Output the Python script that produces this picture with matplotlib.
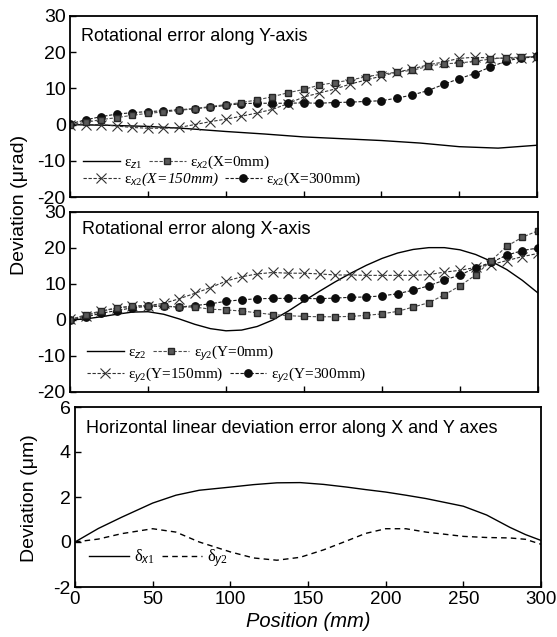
import matplotlib
matplotlib.use('Agg')
import matplotlib.pyplot as plt
from matplotlib.lines import Line2D

plt.rcParams['font.family'] = ['Liberation Sans', 'DejaVu Sans']
plt.rcParams['axes.unicode_minus'] = False
plt.rcParams['mathtext.fontset'] = 'custom'
plt.rcParams['mathtext.rm'] = 'Liberation Serif'
plt.rcParams['mathtext.it'] = 'Liberation Sans:italic'
plt.rcParams['mathtext.sf'] = 'Liberation Serif:italic'

# measured positions (mm)
pos = [0, 10, 20, 30, 40, 50, 60, 70, 80, 90, 100, 110, 120, 130, 140, 150,
       160, 170, 180, 190, 200, 210, 220, 230, 240, 250, 260, 270, 280, 290, 300]

# --- rotational error along Y-axis (urad)
ez1_pos = [0, 25, 50, 75, 100, 125, 150, 175, 200, 225, 250, 275, 300]
ez1 = [0, -0.2, -0.5, -1.1, -1.9, -2.6, -3.4, -3.9, -4.4, -5.1, -6.1, -6.5, -5.7]
ex2_x0 = [0, 0.6, 1.4, 1.9, 2.6, 3.1, 3.5, 3.9, 4.4, 5.0, 5.5, 6.1, 6.8, 7.7, 8.8, 9.7,
          10.9, 11.6, 12.3, 13.2, 13.9, 14.5, 15.0, 16.1, 16.8, 17.0, 17.5, 18.1, 18.5, 18.6, 18.8]
ex2_x150 = [0, 0, 0, -0.4, -0.8, -1.0, -1.0, -0.8, 0, 0.8, 1.5, 2.3, 3.2, 4.2, 5.8, 7.6,
            8.7, 9.8, 11.2, 12.3, 13.4, 14.5, 15.4, 16.5, 17.3, 18.3, 18.6, 18.4, 18.3, 18.4, 18.7]
ex2_x300 = [0.2, 1.3, 2.2, 2.9, 3.3, 3.6, 3.8, 4.1, 4.4, 4.8, 5.3, 5.8, 5.9, 5.9, 5.9, 6.0,
            5.9, 6.1, 6.2, 6.4, 6.6, 7.3, 8.2, 9.4, 11.1, 12.7, 14.1, 15.9, 17.5, 18.5, 18.9]

# --- rotational error along X-axis (urad)
ez2 = [0, 0.3, 0.9, 1.6, 2.2, 2.3, 1.6, 0.3, -1.2, -2.4, -3.0, -2.8, -1.8, 0, 2.5, 5.3,
       8.0, 10.6, 13.0, 15.2, 17.1, 18.6, 19.6, 20.1, 20.1, 19.5, 18.2, 16.3, 14.0, 11.0, 7.5]
ey2_y0 = [0, 1.5, 2.5, 3.4, 3.9, 4.0, 3.9, 3.6, 3.6, 3.0, 2.8, 2.5, 2.0, 1.5, 1.2, 1.0,
          0.9, 0.9, 1.0, 1.3, 1.7, 2.4, 3.6, 4.8, 7.0, 9.5, 12.5, 16.5, 20.5, 23.0, 24.8]
ey2_y150 = [0.2, 1.2, 2.4, 3.3, 3.8, 4.0, 4.6, 5.9, 7.4, 9.0, 10.8, 12.0, 12.8, 13.2, 13.0, 13.0,
            12.8, 12.5, 12.5, 12.4, 12.4, 12.4, 12.4, 12.6, 13.3, 13.8, 14.6, 15.4, 16.5, 17.6, 18.5]
ey2_y300 = [0, 0.8, 1.9, 2.6, 3.4, 3.8, 3.8, 3.6, 4.0, 4.5, 5.2, 5.6, 5.9, 6.0, 6.0, 6.0,
            5.9, 6.1, 6.3, 6.4, 6.7, 7.3, 8.3, 9.5, 11.1, 12.5, 14.5, 16.0, 18.0, 19.3, 20.0]

# --- horizontal linear deviation (um)
lin_pos = [0, 15, 30, 50, 65, 80, 100, 115, 130, 145, 160, 175, 187, 200, 213, 226, 250, 265, 280, 290, 300]
dx1 = [0, 0.6, 1.1, 1.73, 2.08, 2.3, 2.44, 2.55, 2.63, 2.64, 2.56, 2.44, 2.33, 2.22, 2.08, 1.93,
       1.59, 1.2, 0.65, 0.33, 0.07]
dy2 = [0, 0.13, 0.37, 0.59, 0.44, 0.0, -0.44, -0.71, -0.81, -0.68, -0.35, 0.05, 0.38, 0.59, 0.59, 0.44,
       0.25, 0.2, 0.18, 0.12, -0.1]

W, H = 557, 637
fig = plt.figure(figsize=(W / 100, H / 100), dpi=100)


def box(l, r, t, b):
    return [l / W, 1 - b / H, (r - l) / W, (b - t) / H]


ax1 = fig.add_axes(box(70, 537, 16, 197))
ax2 = fig.add_axes(box(70, 538, 212, 392))
ax3 = fig.add_axes(box(75, 541, 407, 587))

sq = dict(marker='s', color='0.3', mfc='0.35', mec='0.15', ms=4.8, lw=0.8, ls=(0, (3, 1.5)))
cr = dict(marker='x', color='0.2', ms=6.5, mew=0.8, lw=0.8, ls=(0, (3, 1.5)))
ci = dict(marker='o', color='0.1', mfc='0.05', mec='0.05', ms=5.3, lw=0.8, ls=(0, (3, 1.5)))

for ax in (ax1, ax2, ax3):
    ax.set_xlim(0, 300)
    ax.set_xticks([0, 50, 100, 150, 200, 250, 300])
    ax.tick_params(direction='in', labelsize=14, length=4, width=1, pad=3)
    for s in ax.spines.values():
        s.set_linewidth(1.3)

leg_kw = dict(frameon=False, ncol=2, loc='center left', borderpad=0, borderaxespad=0,
              handlelength=2.4, handletextpad=0.3, columnspacing=0.4, numpoints=1,
              prop={'family': 'Liberation Serif', 'size': 11})

# panel 1
ax1.plot(ez1_pos, ez1, color='k', lw=1)
ax1.plot(pos, ex2_x150, **cr)
ax1.plot(pos, ex2_x300, **ci)
ax1.plot(pos, ex2_x0, **sq)
ax1.set_ylim(-20, 30)
ax1.set_yticks([-20, -10, 0, 10, 20, 30])
ax1.tick_params(labelbottom=False)
ax1.text(0.024, 0.884, 'Rotational error along Y-axis', transform=ax1.transAxes,
         fontsize=13, va='center')
h1 = [Line2D([], [], color='k', lw=1, label=r'$\mathrm{ε}_{\mathit{z1}}$'),
      Line2D([], [], **sq, label=r'$\mathrm{ε}_{\mathit{x2}}$(X=0mm)')]
h2 = [Line2D([], [], **cr, label=r'$\mathrm{ε}_{\mathit{x2}}\mathsf{(X\!=\!150mm)}$'),
      Line2D([], [], **ci, label=r'$\mathrm{ε}_{\mathit{x2}}$(X=300mm)')]
l1 = ax1.legend(handles=h1, bbox_to_anchor=(0.028, 0.19), **leg_kw)
ax1.add_artist(l1)
ax1.legend(handles=h2, bbox_to_anchor=(0.028, 0.095), **leg_kw)

# panel 2
ax2.plot(pos, ez2, color='k', lw=1)
ax2.plot(pos, ey2_y150, **cr)
ax2.plot(pos, ey2_y300, **ci)
ax2.plot(pos, ey2_y0, **sq)
ax2.set_ylim(-20, 30)
ax2.set_yticks([-20, -10, 0, 10, 20, 30])
ax2.tick_params(labelbottom=False)
ax2.text(0.026, 0.905, 'Rotational error along X-axis', transform=ax2.transAxes,
         fontsize=13, va='center')
h3 = [Line2D([], [], color='k', lw=1, label=r'$\mathrm{ε}_{\mathit{z2}}$'),
      Line2D([], [], **sq, label=r'$\mathrm{ε}_{\mathit{y2}}$(Y=0mm)')]
h4 = [Line2D([], [], **cr, label=r'$\mathrm{ε}_{\mathit{y2}}$(Y=150mm)'),
      Line2D([], [], **ci, label=r'$\mathrm{ε}_{\mathit{y2}}$(Y=300mm)')]
l3 = ax2.legend(handles=h3, bbox_to_anchor=(0.036, 0.215), **leg_kw)
ax2.add_artist(l3)
ax2.legend(handles=h4, bbox_to_anchor=(0.036, 0.095), **leg_kw)

# panel 3
ax3.plot(lin_pos, dx1, color='k', lw=1, label=r'$\mathrm{δ}_{\mathit{x1}}$')
ax3.plot(lin_pos, dy2, color='k', lw=1, ls=(0, (4, 3)), label=r'$\mathrm{δ}_{\mathit{y2}}$')
ax3.set_ylim(-2, 6)
ax3.set_yticks([-2, 0, 2, 4, 6])
ax3.tick_params(axis='x', labelsize=13.5)
ax3.text(0.024, 0.883, 'Horizontal linear deviation error along X and Y axes',
         transform=ax3.transAxes, fontsize=13, va='center')
kw3 = dict(leg_kw)
kw3['prop'] = {'family': 'Liberation Serif', 'size': 12}
ax3.legend(bbox_to_anchor=(0.03, 0.16), **kw3)
ax3.set_xlabel('Position (mm)', fontsize=14.5, style='italic', labelpad=3)

fig.text(20 / W, 1 - 205 / H, 'Deviation (μrad)', rotation=90, fontsize=14,
         ha='center', va='center')
fig.text(30 / W, 1 - 498 / H, 'Deviation (μm)', rotation=90, fontsize=14,
         ha='center', va='center')

fig.savefig('out.png', dpi=100)
